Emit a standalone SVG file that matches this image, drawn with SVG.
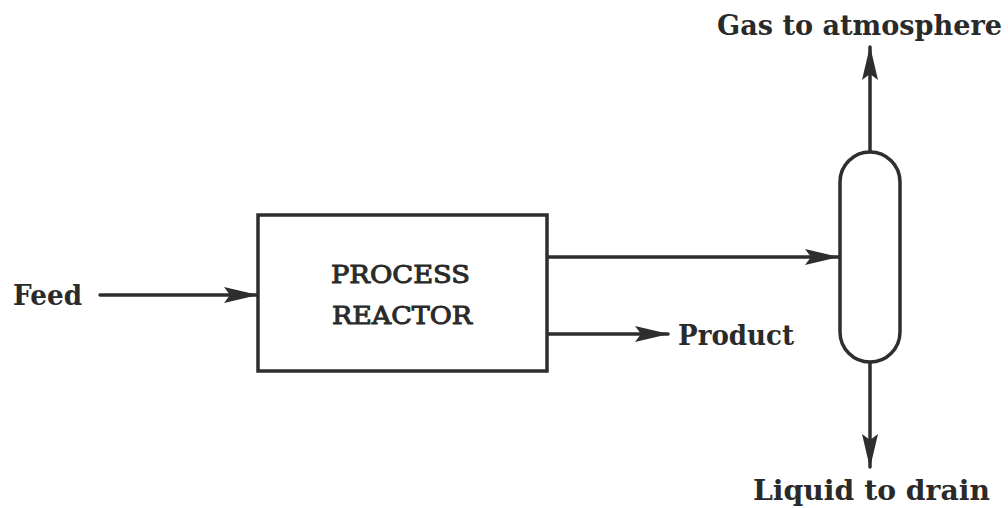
<svg xmlns="http://www.w3.org/2000/svg" width="1008" height="508" viewBox="0 0 1008 508">
<defs>
<style>
.line{stroke:#2e2e2e;stroke-width:3.5;fill:none;stroke-linecap:round}
.shape{stroke:#2e2e2e;stroke-width:3.5;fill:#ffffff}
.lbl{font-family:"DejaVu Serif","Liberation Serif",serif;font-weight:bold;font-size:27px;fill:#2a2a2a}
.inner{font-family:"DejaVu Serif","Liberation Serif",serif;font-weight:normal;font-size:25px;fill:#2a2a2a;stroke:#2a2a2a;stroke-width:1}
</style>
<marker id="arr" markerUnits="userSpaceOnUse" viewBox="0 0 34 20" refX="33" refY="10" markerWidth="34" markerHeight="20" orient="auto">
<path d="M0,2 L34,10 L0,18 L6,10 z" fill="#2e2e2e"/>
</marker>
</defs>
<rect width="1008" height="508" fill="#ffffff"/>
<g id="connectors">
<line class="line" x1="100" y1="295" x2="257" y2="295" marker-end="url(#arr)"/>
<line class="line" x1="548" y1="257" x2="838" y2="257" marker-end="url(#arr)"/>
<line class="line" x1="548" y1="334" x2="668" y2="334" marker-end="url(#arr)"/>
<line class="line" x1="870" y1="152" x2="870" y2="47" marker-end="url(#arr)"/>
<line class="line" x1="870" y1="362" x2="870" y2="467" marker-end="url(#arr)"/>
</g>
<g id="reactor">
<rect class="shape" x="258" y="215" width="289" height="156"/>
<text class="inner" x="331" y="283" textLength="139" lengthAdjust="spacingAndGlyphs">PROCESS</text>
<text class="inner" x="332" y="324" textLength="140" lengthAdjust="spacingAndGlyphs">REACTOR</text>
</g>
<g id="separator">
<rect class="shape" x="840" y="152" width="60" height="210" rx="30" ry="30"/>
</g>
<g id="feed">
<text class="lbl" x="13" y="305" textLength="69" lengthAdjust="spacingAndGlyphs">Feed</text>
</g>
<g id="product">
<text class="lbl" x="678" y="345" textLength="116" lengthAdjust="spacingAndGlyphs">Product</text>
</g>
<g id="gas">
<text class="lbl" x="717" y="35" textLength="285" lengthAdjust="spacingAndGlyphs">Gas to atmosphere</text>
</g>
<g id="liquid">
<text class="lbl" x="753" y="500" textLength="237" lengthAdjust="spacingAndGlyphs">Liquid to drain</text>
</g>
</svg>
